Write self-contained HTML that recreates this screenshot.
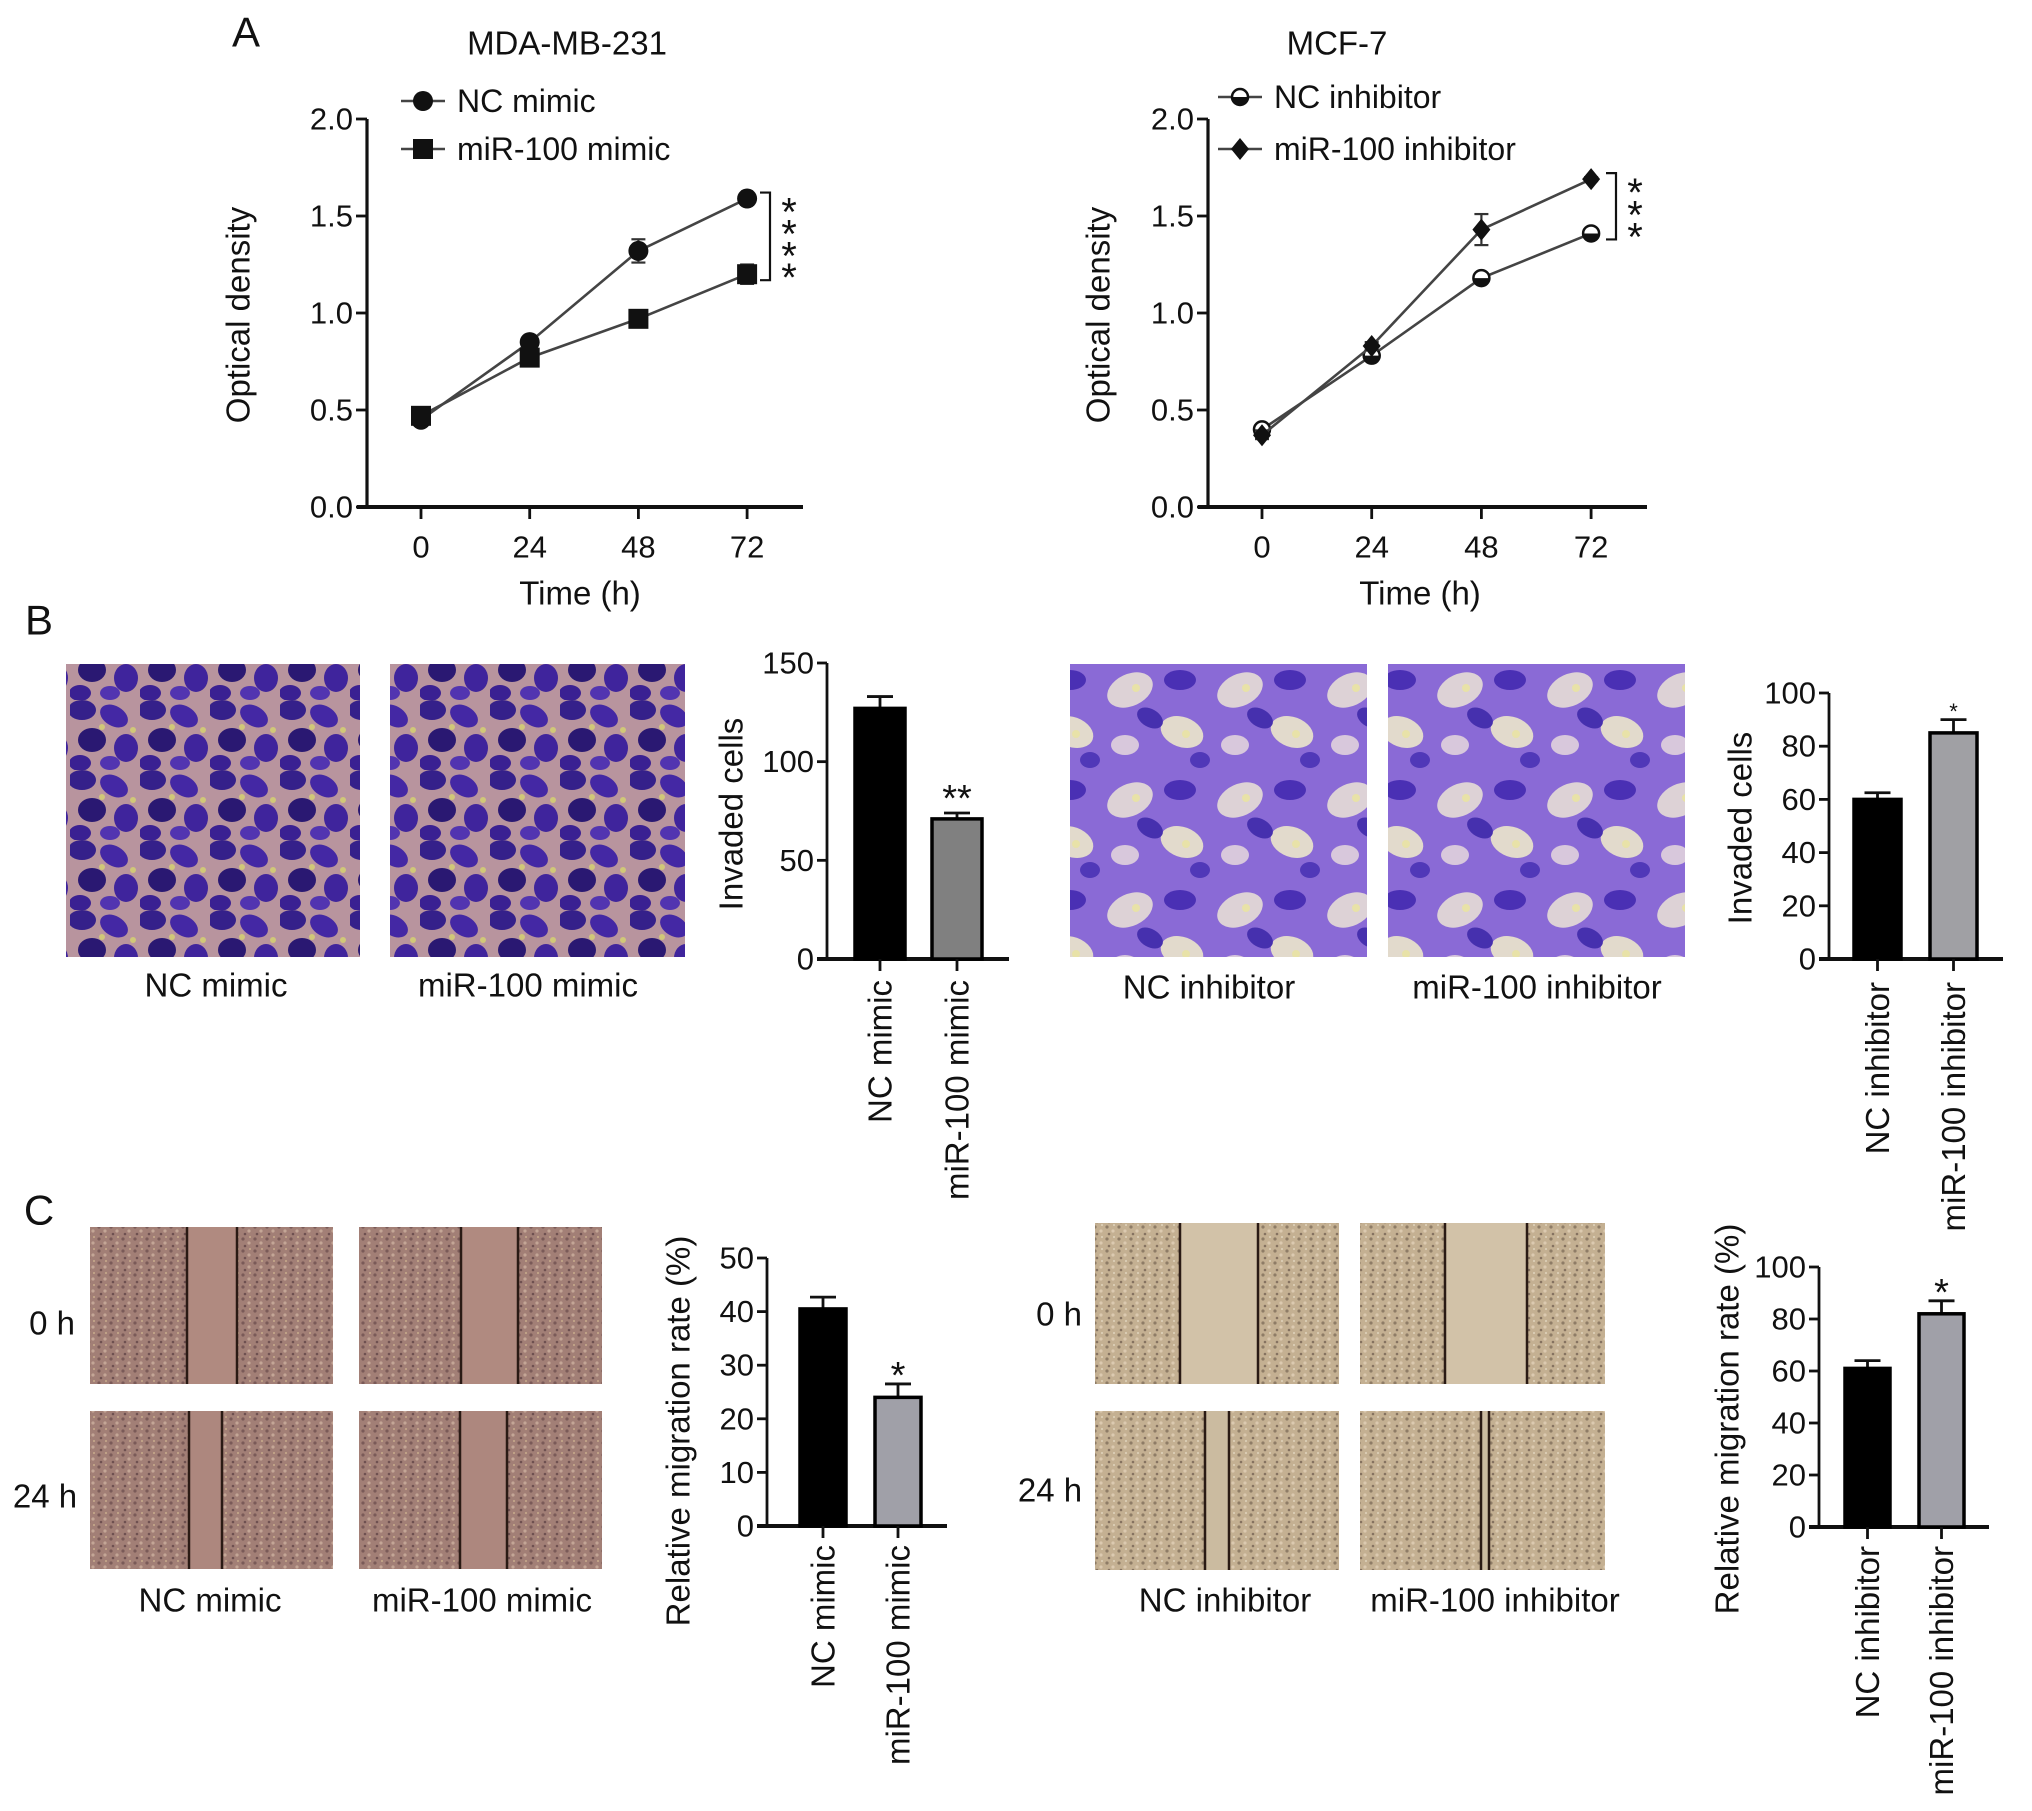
<!DOCTYPE html>
<html><head><meta charset="utf-8">
<style>
html,body{margin:0;padding:0;background:#fff;}
svg{display:block;}
text{font-family:"Liberation Sans",Arial,sans-serif;fill:#111;}
</style></head>
<body>
<svg id="fig" width="2032" height="1811" viewBox="0 0 2032 1811" xmlns="http://www.w3.org/2000/svg">
<defs>
  <pattern id="invA" width="70" height="70" patternUnits="userSpaceOnUse">
    <rect width="70" height="70" fill="#b8949e"/>
    <ellipse cx="12" cy="10" rx="14" ry="10" fill="#35208a"/>
    <ellipse cx="44" cy="16" rx="15" ry="10" fill="#4428a4" transform="rotate(30 44 16)"/>
    <ellipse cx="22" cy="40" rx="14" ry="12" fill="#2a1872"/>
    <ellipse cx="56" cy="48" rx="12" ry="14" fill="#3f249c"/>
    <ellipse cx="10" cy="63" rx="11" ry="8" fill="#3a2092"/>
    <ellipse cx="40" cy="63" rx="10" ry="7" fill="#5234b0"/>
    <circle cx="32" cy="27" r="3" fill="#d0c878"/>
    <circle cx="63" cy="30" r="3" fill="#d0c878"/>
  </pattern>
  <pattern id="invB" width="110" height="110" patternUnits="userSpaceOnUse">
    <rect width="110" height="110" fill="#8a6ad6"/>
    <ellipse cx="30" cy="30" rx="24" ry="16" fill="#ddd2d6" transform="rotate(-25 30 30)"/>
    <ellipse cx="82" cy="72" rx="22" ry="15" fill="#e2dacc" transform="rotate(20 82 72)"/>
    <ellipse cx="25" cy="85" rx="14" ry="10" fill="#d8c8dc"/>
    <ellipse cx="80" cy="20" rx="16" ry="10" fill="#4a30b4"/>
    <ellipse cx="50" cy="58" rx="14" ry="9" fill="#4630ae" transform="rotate(30 50 58)"/>
    <ellipse cx="100" cy="100" rx="10" ry="8" fill="#5038b8"/>
    <circle cx="36" cy="28" r="4" fill="#e8e2a8"/>
    <circle cx="86" cy="74" r="4" fill="#e8e2a8"/>
  </pattern>
  <pattern id="woundM" width="12" height="12" patternUnits="userSpaceOnUse">
    <rect width="12" height="12" fill="#a27f76"/>
    <circle cx="3" cy="3" r="1.6" fill="#7a5a58"/>
    <circle cx="9" cy="7" r="1.6" fill="#c4a696"/>
    <circle cx="5" cy="10" r="1.3" fill="#6e5050"/>
    <circle cx="10" cy="1" r="1" fill="#c8ac8c"/>
  </pattern>
  <pattern id="woundI" width="12" height="12" patternUnits="userSpaceOnUse">
    <rect width="12" height="12" fill="#c4b092"/>
    <circle cx="3" cy="3" r="1.6" fill="#8e7c66"/>
    <circle cx="9" cy="7" r="1.6" fill="#dccab0"/>
    <circle cx="5" cy="10" r="1.3" fill="#857260"/>
    <circle cx="10" cy="1" r="1" fill="#e0d4bc"/>
  </pattern>
</defs>
</svg>
<script>
// ===== Data =====
const timeCats = [0, 24, 48, 72];
const odTicks = [0.0, 0.5, 1.0, 1.5, 2.0];
const odTickLabels = ["0.0", "0.5", "1.0", "1.5", "2.0"];
const ncMimicOD = [0.45, 0.85, 1.32, 1.59];
const ncMimicErr = [0.02, 0.02, 0.06, 0.02];
const mirMimicOD = [0.47, 0.77, 0.97, 1.20];
const mirMimicErr = [0.02, 0.02, 0.02, 0.05];
const ncInhOD = [0.40, 0.78, 1.18, 1.41];
const ncInhErr = [0.02, 0.02, 0.02, 0.02];
const mirInhOD = [0.37, 0.83, 1.43, 1.69];
const mirInhErr = [0.02, 0.02, 0.08, 0.01];

const mimicCats = ["NC mimic", "miR-100 mimic"];
const inhCats = ["NC inhibitor", "miR-100 inhibitor"];
const invMimicVals = [127, 71];
const invMimicErr = [6, 3];
const invMimicTicks = [0, 50, 100, 150];
const invInhVals = [60, 85];
const invInhErr = [2.5, 5];
const invInhTicks = [0, 20, 40, 60, 80, 100];
const migMimicVals = [40.5, 24];
const migMimicErr = [2.2, 2.5];
const migMimicTicks = [0, 10, 20, 30, 40, 50];
const migInhVals = [61, 82];
const migInhErr = [3, 5];
const migInhTicks = [0, 20, 40, 60, 80, 100];

const NS = "http://www.w3.org/2000/svg";
const svg = document.getElementById('fig');
const FS = 33, TS = 31;
function mk(tag, attrs, parent) {
  const e = document.createElementNS(NS, tag);
  for (const k in attrs) e.setAttribute(k, attrs[k]);
  (parent || svg).appendChild(e);
  return e;
}
function txt(s, x, y, size, anchor, parent, rot) {
  const t = mk('text', {x: x, y: y, 'font-size': size, 'text-anchor': anchor || 'middle', 'dominant-baseline': 'central'}, parent);
  if (rot) t.setAttribute('transform', 'rotate(' + rot + ' ' + x + ' ' + y + ')');
  t.textContent = s;
  return t;
}

// ===== Panel letters =====
[["A", 246, 32], ["B", 39, 620], ["C", 39, 1210]].forEach(function (p) {
  const t = txt(p[0], p[1], p[2], 42, 'middle');
  
  
});

// ===== Line charts =====
function lineChart(cfg) {
  const g = mk('g', {});
  
  
  const yScale = v => cfg.y0 + (cfg.y1 - cfg.y0) * (v - 0) / 2.0;
  const xScale = i => cfg.xt0 + i * cfg.xstep;
  const ti = txt(cfg.title, cfg.titleX, 43, FS, 'middle', g);
  
  
  const ya = mk('line', {x1: cfg.ax, y1: cfg.y1, x2: cfg.ax, y2: cfg.y0 + 1.5, stroke: '#111', 'stroke-width': 3.2}, g);
  
  
  const xa = mk('line', {x1: cfg.ax - 10, y1: cfg.y0, x2: cfg.axEnd, y2: cfg.y0, stroke: '#111', 'stroke-width': 4}, g);
  
  
  odTicks.forEach(function (v, i) {
    const y = yScale(v);
    mk('line', {x1: cfg.ax - 11, y1: y, x2: cfg.ax, y2: y, stroke: '#111', 'stroke-width': 2.8}, g);
    const t = txt(odTickLabels[i], cfg.ax - 14, y, TS, 'end', g);
    
    
  });
  timeCats.forEach(function (c, i) {
    const x = xScale(i);
    mk('line', {x1: x, y1: cfg.y0, x2: x, y2: cfg.y0 + 12, stroke: '#111', 'stroke-width': 2.8}, g);
    const t = txt(String(c), x, cfg.y0 + 40, TS, 'middle', g);
    
    
  });
  const xl = txt('Time (h)', cfg.xlabX, 593, FS, 'middle', g);
  
  
  const yl = txt('Optical density', cfg.ylabX, 315, FS, 'middle', g, -90);
  
  
  cfg.series.forEach(function (s, si) {
    const sg = mk('g', {}, g);
    
    
    let d = '';
    s.vals.forEach(function (v, i) { d += (i ? 'L' : 'M') + xScale(i) + ' ' + yScale(v); });
    mk('path', {d: d, fill: 'none', stroke: '#444', 'stroke-width': 2.6}, sg);
    s.vals.forEach(function (v, i) {
      const x = xScale(i), y = yScale(v), e = s.err[i];
      mk('line', {x1: x, y1: yScale(v - e), x2: x, y2: yScale(v + e), stroke: '#333', 'stroke-width': 2.2}, sg);
      mk('line', {x1: x - 7, y1: yScale(v + e), x2: x + 7, y2: yScale(v + e), stroke: '#333', 'stroke-width': 2.2}, sg);
      mk('line', {x1: x - 7, y1: yScale(v - e), x2: x + 7, y2: yScale(v - e), stroke: '#333', 'stroke-width': 2.2}, sg);
      const m = marker(s.shape, x, y, sg);
      
      
    });
    const lg = mk('g', {}, g);
    
    
    const ly = cfg.legY[si];
    mk('line', {x1: cfg.legX - 22, y1: ly, x2: cfg.legX + 22, y2: ly, stroke: '#444', 'stroke-width': 2.6}, lg);
    marker(s.shape, cfg.legX, ly, lg);
    txt(s.label, cfg.legX + 34, ly, 32, 'start', lg);
  });
  const a = yScale(cfg.series[0].vals[3]), b = yScale(cfg.series[1].vals[3]);
  const top = Math.min(a, b) - 6, bot = Math.max(a, b) + 6;
  const br = mk('path', {d: 'M' + (cfg.brX - 10) + ' ' + top + 'H' + cfg.brX + 'V' + bot + 'H' + (cfg.brX - 10), fill: 'none', stroke: '#111', 'stroke-width': 2.2}, g);
  
  
  const n = cfg.stars, step = (bot - top) / n;
  for (let k = 0; k < n; k++) {
    const st = txt('*', cfg.brX + 19, top + step * (k + 0.5) + 9, 40, 'middle', g);
    
    
  }
}
function marker(shape, x, y, parent) {
  if (shape === 'circle') return mk('circle', {cx: x, cy: y, r: 10, fill: '#111'}, parent);
  if (shape === 'square') return mk('rect', {x: x - 10, y: y - 10, width: 20, height: 20, fill: '#111'}, parent);
  if (shape === 'diamond') return mk('path', {d: 'M' + x + ' ' + (y - 11) + 'L' + (x + 9) + ' ' + y + 'L' + x + ' ' + (y + 11) + 'L' + (x - 9) + ' ' + y + 'Z', fill: '#111'}, parent);
  const g = mk('g', {}, parent);
  mk('circle', {cx: x, cy: y, r: 8, fill: '#fff', stroke: '#111', 'stroke-width': 2.5}, g);
  mk('path', {d: 'M' + (x - 8) + ' ' + y + 'A8 8 0 0 0 ' + (x + 8) + ' ' + y + 'Z', fill: '#111'}, g);
  return g;
}
lineChart({name: 'line-chart-mda-mb-231', title: 'MDA-MB-231', titleX: 567, ax: 367, axEnd: 803, y0: 507, y1: 119,
  xt0: 421, xstep: 108.7, xlabX: 580, ylabX: 238, legX: 423, legY: [101, 149], brX: 770, stars: 4,
  series: [{key: 'nc-mimic', label: 'NC mimic', shape: 'circle', vals: ncMimicOD, err: ncMimicErr},
           {key: 'mir-100-mimic', label: 'miR-100 mimic', shape: 'square', vals: mirMimicOD, err: mirMimicErr}]});
lineChart({name: 'line-chart-mcf-7', title: 'MCF-7', titleX: 1337, ax: 1208, axEnd: 1647, y0: 507, y1: 119,
  xt0: 1262, xstep: 109.7, xlabX: 1420, ylabX: 1098, legX: 1240, legY: [97, 149], brX: 1616, stars: 3,
  series: [{key: 'nc-inhibitor', label: 'NC inhibitor', shape: 'half', vals: ncInhOD, err: ncInhErr},
           {key: 'mir-100-inhibitor', label: 'miR-100 inhibitor', shape: 'diamond', vals: mirInhOD, err: mirInhErr}]});

// ===== Images =====
function image(name, x, y, w, h, fill, gapFill, lines) {
  const g = mk('g', {});
  
  
  mk('rect', {x: x, y: y, width: w, height: h, fill: fill}, g);
  if (lines) {
    mk('rect', {x: lines[0], y: y, width: lines[1] - lines[0], height: h, fill: gapFill}, g);
    lines.forEach(function (lx) { mk('line', {x1: lx, y1: y, x2: lx, y2: y + h, stroke: '#2a1a14', 'stroke-width': 2.5}, g); });
  }
}
function label(s, x, y, name, anchor) {
  const t = txt(s, x, y, FS, anchor || 'middle');
  
  
}
image('invasion-image-nc-mimic', 66, 664, 294, 293, 'url(#invA)');
image('invasion-image-mir-100-mimic', 390, 664, 295, 293, 'url(#invA)');
label('NC mimic', 216, 985, 'image-label-nc-mimic');
label('miR-100 mimic', 528, 985, 'image-label-mir-100-mimic');
image('invasion-image-nc-inhibitor', 1070, 664, 297, 293, 'url(#invB)');
image('invasion-image-mir-100-inhibitor', 1388, 664, 297, 293, 'url(#invB)');
label('NC inhibitor', 1209, 987, 'image-label-nc-inhibitor');
label('miR-100 inhibitor', 1537, 987, 'image-label-mir-100-inhibitor');

image('wound-nc-mimic-0h', 90, 1227, 243, 157, 'url(#woundM)', '#b08a80', [187, 237]);
image('wound-mir-100-mimic-0h', 359, 1227, 243, 157, 'url(#woundM)', '#b08a80', [461, 518]);
image('wound-nc-mimic-24h', 90, 1411, 243, 158, 'url(#woundM)', '#ad877e', [189, 222]);
image('wound-mir-100-mimic-24h', 359, 1411, 243, 158, 'url(#woundM)', '#ad877e', [460, 507]);
label('0 h', 52, 1323, 'row-label-0h');
label('24 h', 45, 1496, 'row-label-24h');
label('NC mimic', 210, 1600, 'wound-label-nc-mimic');
label('miR-100 mimic', 482, 1600, 'wound-label-mir-100-mimic');

image('wound-nc-inhibitor-0h', 1095, 1223, 244, 161, 'url(#woundI)', '#d2c2a8', [1180, 1258]);
image('wound-mir-100-inhibitor-0h', 1360, 1223, 245, 161, 'url(#woundI)', '#d2c2a8', [1445, 1527]);
image('wound-nc-inhibitor-24h', 1095, 1411, 244, 159, 'url(#woundI)', '#cbbba0', [1205, 1229]);
image('wound-mir-100-inhibitor-24h', 1360, 1411, 245, 159, 'url(#woundI)', '#cbbba0', [1481, 1489]);
label('0 h', 1059, 1314, 'row-label-0h-right');
label('24 h', 1050, 1490, 'row-label-24h-right');
label('NC inhibitor', 1225, 1600, 'wound-label-nc-inhibitor');
label('miR-100 inhibitor', 1495, 1600, 'wound-label-mir-100-inhibitor');

// ===== Bar charts =====
function barChart(cfg) {
  const g = mk('g', {});
  
  
  const max = cfg.ticks[cfg.ticks.length - 1];
  const yS = v => cfg.y0 - (cfg.y0 - cfg.yTop) * v / max;
  mk('line', {x1: cfg.ax, y1: cfg.yTop, x2: cfg.ax, y2: cfg.y0, stroke: '#111', 'stroke-width': 2.8}, g);
  const xa = mk('line', {x1: cfg.ax - 10, y1: cfg.y0, x2: cfg.axEnd, y2: cfg.y0, stroke: '#111', 'stroke-width': 4}, g);
  
  
  cfg.ticks.forEach(function (v) {
    const y = yS(v);
    mk('line', {x1: cfg.ax - 10, y1: y, x2: cfg.ax, y2: y, stroke: '#111', 'stroke-width': 2.8}, g);
    const t = txt(String(v), cfg.ax - 13, y, TS, 'end', g);
    
    
  });
  const yl = txt(cfg.ylab, cfg.ylabX, cfg.ylabY, FS, 'middle', g, -90);
  
  
  cfg.cats.forEach(function (c, i) {
    const x0 = cfg.barX[i], w = cfg.barW, cx = x0 + w / 2;
    const v = cfg.vals[i], e = cfg.err[i];
    mk('line', {x1: cx, y1: yS(v), x2: cx, y2: yS(v + e), stroke: '#111', 'stroke-width': 2.8}, g);
    mk('line', {x1: cx - 13, y1: yS(v + e), x2: cx + 13, y2: yS(v + e), stroke: '#111', 'stroke-width': 2.8}, g);
    const b = mk('rect', {x: x0, y: yS(v), width: w, height: cfg.y0 - yS(v), fill: i ? cfg.color2 : '#000', stroke: '#000', 'stroke-width': 3.5}, g);
    
    
    mk('line', {x1: cx, y1: cfg.y0, x2: cx, y2: cfg.y0 + 12, stroke: '#111', 'stroke-width': 2.8}, g);
    const t = mk('text', {x: cx, y: cfg.labY, 'font-size': FS, 'text-anchor': 'end', 'dominant-baseline': 'central', transform: 'rotate(-90 ' + cx + ' ' + cfg.labY + ')'}, g);
    t.textContent = c;
    
    
    if (i === 1) {
      const s = txt(cfg.sig, cx, yS(v + e) - cfg.sigOff, cfg.sigSize, 'middle', g);
      
      
    }
  });
}
barChart({name: 'bar-chart-invasion-mimic', cats: mimicCats, vals: invMimicVals, err: invMimicErr, ticks: invMimicTicks,
  ax: 827, axEnd: 1009, y0: 959, yTop: 663, barX: [855, 932], barW: 50, color2: '#808080',
  ylab: 'Invaded cells', ylabX: 731, ylabY: 814, labY: 980, sig: '**', sigOff: 14, sigSize: 38});
barChart({name: 'bar-chart-invasion-inhibitor', cats: inhCats, vals: invInhVals, err: invInhErr, ticks: invInhTicks,
  ax: 1829, axEnd: 2003, y0: 959, yTop: 693, barX: [1854, 1930], barW: 47, color2: '#a0a0a4',
  ylab: 'Invaded cells', ylabX: 1740, ylabY: 828, labY: 982, sig: '*', sigOff: 8, sigSize: 22});
barChart({name: 'bar-chart-migration-mimic', cats: mimicCats, vals: migMimicVals, err: migMimicErr, ticks: migMimicTicks,
  ax: 767, axEnd: 947, y0: 1526, yTop: 1258, barX: [800, 875], barW: 46, color2: '#a0a0a8',
  ylab: 'Relative migration rate (%)', ylabX: 678, ylabY: 1431, labY: 1545, sig: '*', sigOff: 8, sigSize: 38});
barChart({name: 'bar-chart-migration-inhibitor', cats: inhCats, vals: migInhVals, err: migInhErr, ticks: migInhTicks,
  ax: 1819, axEnd: 1989, y0: 1527, yTop: 1267, barX: [1845, 1919], barW: 45, color2: '#a0a0a8',
  ylab: 'Relative migration rate (%)', ylabX: 1727, ylabY: 1419, labY: 1546, sig: '*', sigOff: 8, sigSize: 38});
</script>
</body></html>
